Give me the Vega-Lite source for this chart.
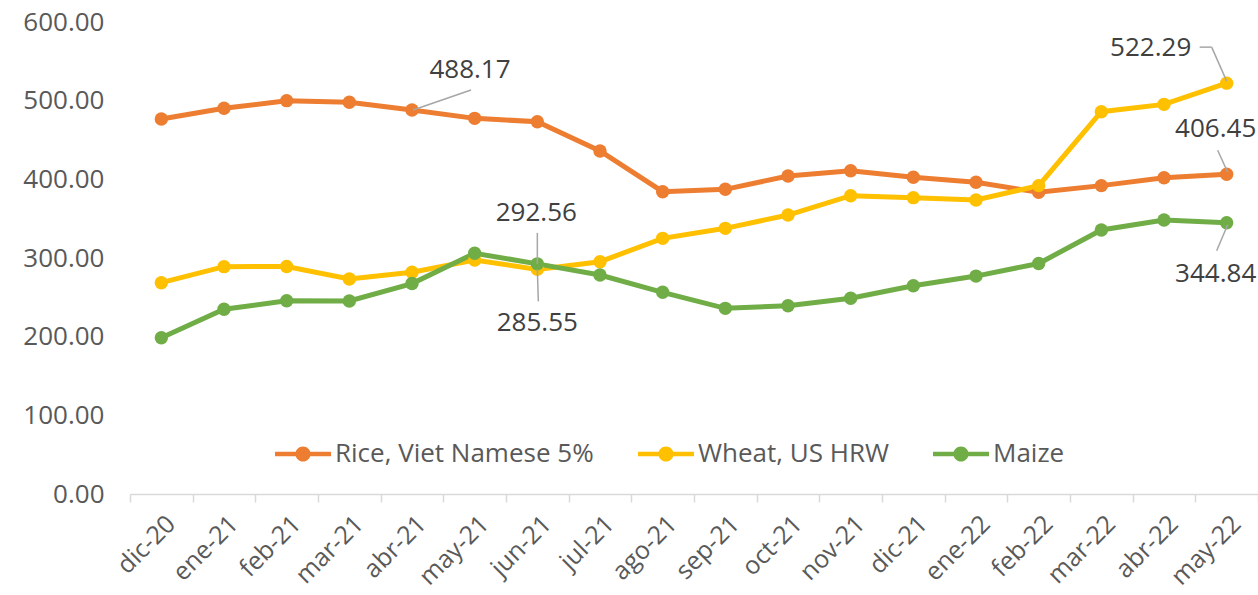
{
  "$schema": "https://vega.github.io/schema/vega-lite/v6.json",
  "width": 1128,
  "height": 472,
  "autosize": {"type": "none"},
  "padding": {"left": 130, "top": 22, "right": 0, "bottom": 101},
  "background": "white",
  "config": {
    "view": {"stroke": null},
    "font": "Open Sans",
    "axis": {"labelFont": "Open Sans", "labelFontSize": 26, "labelColor": "#595959", "grid": false}
  },
  "data": {
    "values": [
      {"month": "dic-20", "series": "Rice, Viet Namese 5%", "value": 476.7},
      {"month": "ene-21", "series": "Rice, Viet Namese 5%", "value": 490.3},
      {"month": "feb-21", "series": "Rice, Viet Namese 5%", "value": 500.0},
      {"month": "mar-21", "series": "Rice, Viet Namese 5%", "value": 497.9},
      {"month": "abr-21", "series": "Rice, Viet Namese 5%", "value": 488.17},
      {"month": "may-21", "series": "Rice, Viet Namese 5%", "value": 477.5},
      {"month": "jun-21", "series": "Rice, Viet Namese 5%", "value": 473.3},
      {"month": "jul-21", "series": "Rice, Viet Namese 5%", "value": 436.0},
      {"month": "ago-21", "series": "Rice, Viet Namese 5%", "value": 384.3},
      {"month": "sep-21", "series": "Rice, Viet Namese 5%", "value": 387.3},
      {"month": "oct-21", "series": "Rice, Viet Namese 5%", "value": 404.2},
      {"month": "nov-21", "series": "Rice, Viet Namese 5%", "value": 411.0},
      {"month": "dic-21", "series": "Rice, Viet Namese 5%", "value": 402.6},
      {"month": "ene-22", "series": "Rice, Viet Namese 5%", "value": 396.2},
      {"month": "feb-22", "series": "Rice, Viet Namese 5%", "value": 383.5},
      {"month": "mar-22", "series": "Rice, Viet Namese 5%", "value": 392.0},
      {"month": "abr-22", "series": "Rice, Viet Namese 5%", "value": 402.0},
      {"month": "may-22", "series": "Rice, Viet Namese 5%", "value": 406.45},
      {"month": "dic-20", "series": "Wheat, US HRW", "value": 268.6},
      {"month": "ene-21", "series": "Wheat, US HRW", "value": 289.0},
      {"month": "feb-21", "series": "Wheat, US HRW", "value": 289.2},
      {"month": "mar-21", "series": "Wheat, US HRW", "value": 273.3},
      {"month": "abr-21", "series": "Wheat, US HRW", "value": 281.8},
      {"month": "may-21", "series": "Wheat, US HRW", "value": 297.4},
      {"month": "jun-21", "series": "Wheat, US HRW", "value": 285.55},
      {"month": "jul-21", "series": "Wheat, US HRW", "value": 295.3},
      {"month": "ago-21", "series": "Wheat, US HRW", "value": 325.0},
      {"month": "sep-21", "series": "Wheat, US HRW", "value": 337.7},
      {"month": "oct-21", "series": "Wheat, US HRW", "value": 354.6},
      {"month": "nov-21", "series": "Wheat, US HRW", "value": 379.2},
      {"month": "dic-21", "series": "Wheat, US HRW", "value": 376.7},
      {"month": "ene-22", "series": "Wheat, US HRW", "value": 373.7},
      {"month": "feb-22", "series": "Wheat, US HRW", "value": 392.0},
      {"month": "mar-22", "series": "Wheat, US HRW", "value": 486.0},
      {"month": "abr-22", "series": "Wheat, US HRW", "value": 495.3},
      {"month": "may-22", "series": "Wheat, US HRW", "value": 522.29},
      {"month": "dic-20", "series": "Maize", "value": 198.7},
      {"month": "ene-21", "series": "Maize", "value": 234.8},
      {"month": "feb-21", "series": "Maize", "value": 245.7},
      {"month": "mar-21", "series": "Maize", "value": 245.3},
      {"month": "abr-21", "series": "Maize", "value": 267.5},
      {"month": "may-21", "series": "Maize", "value": 306.0},
      {"month": "jun-21", "series": "Maize", "value": 292.56},
      {"month": "jul-21", "series": "Maize", "value": 278.4},
      {"month": "ago-21", "series": "Maize", "value": 256.4},
      {"month": "sep-21", "series": "Maize", "value": 236.0},
      {"month": "oct-21", "series": "Maize", "value": 239.4},
      {"month": "nov-21", "series": "Maize", "value": 248.8},
      {"month": "dic-21", "series": "Maize", "value": 264.8},
      {"month": "ene-22", "series": "Maize", "value": 277.0},
      {"month": "feb-22", "series": "Maize", "value": 293.0},
      {"month": "mar-22", "series": "Maize", "value": 335.6},
      {"month": "abr-22", "series": "Maize", "value": 348.3},
      {"month": "may-22", "series": "Maize", "value": 344.84}
    ]
  },
  "encoding": {
    "x": {
      "field": "month", "type": "nominal", "sort": null,
      "scale": {"type": "band", "paddingInner": 0, "paddingOuter": 0},
      "axis": {
        "title": null, "labelAngle": -45, "labelPadding": 9, "labelOffset": 1, "labelFontSize": 25,
        "domainColor": "#D9D9D9", "domainWidth": 1.5,
        "tickColor": "#D9D9D9", "tickWidth": 1.5, "tickSize": 8, "tickBand": "extent"
      }
    },
    "y": {
      "field": "value", "type": "quantitative",
      "scale": {"domain": [0, 600], "nice": false},
      "axis": {
        "title": null, "values": [0, 100, 200, 300, 400, 500, 600], "format": ".2f",
        "domain": false, "ticks": false, "labelPadding": 26
      }
    }
  },
  "layer": [
    {
      "mark": {"type": "line", "strokeWidth": 5},
      "encoding": {
        "color": {
          "field": "series", "type": "nominal",
          "scale": {"domain": ["Rice, Viet Namese 5%", "Wheat, US HRW", "Maize"], "range": ["#ED7D31", "#FFC000", "#70AD47"]},
          "legend": {
            "title": null, "orient": "none", "direction": "horizontal",
            "legendX": 145, "legendY": 404,
            "symbolType": "M-1,-0.08H1V0.08H-1Z M0.27,0 A0.27,0.27 0 1,1 -0.27,0 A0.27,0.27 0 1,1 0.27,0 Z",
            "symbolSize": 3136, "symbolStrokeWidth": 0,
            "labelFont": "Open Sans", "labelFontSize": 26, "labelColor": "#595959", "labelLimit": 0,
            "labelOffset": 4, "columnPadding": 44,
            "encode": {"symbols": {"update": {"fill": {"scale": "color", "field": "value"}, "strokeWidth": {"value": 0}, "opacity": {"value": 1}}}}
          }
        }
      }
    },
    {
      "mark": {"type": "point", "filled": true, "size": 180, "opacity": 1},
      "encoding": {"color": {"field": "series", "type": "nominal", "legend": null}}
    },
    {
      "transform": [{"filter": "datum.month == 'abr-21' && datum.series == 'Rice, Viet Namese 5%'"}],
      "mark": {"type": "rule", "color": "#A6A6A6", "strokeWidth": 1.5, "xOffset": 1, "yOffset": 0, "x2Offset": 59, "y2Offset": -20},
      "encoding": {"x2": {"field": "month", "bandPosition": 0.5}, "y2": {"field": "value"}, "x": {"field": "month", "type": "nominal", "sort": null, "bandPosition": 0.5}}
    },
    {
      "transform": [{"filter": "datum.month == 'jun-21' && datum.series == 'Maize'"}],
      "mark": {"type": "rule", "color": "#A6A6A6", "strokeWidth": 1.5, "xOffset": 0, "yOffset": -31, "x2Offset": 0, "y2Offset": 0},
      "encoding": {"x2": {"field": "month", "bandPosition": 0.5}, "y2": {"field": "value"}, "x": {"field": "month", "type": "nominal", "sort": null, "bandPosition": 0.5}}
    },
    {
      "transform": [{"filter": "datum.month == 'jun-21' && datum.series == 'Wheat, US HRW'"}],
      "mark": {"type": "rule", "color": "#A6A6A6", "strokeWidth": 1.5, "xOffset": 0, "yOffset": 0, "x2Offset": 1, "y2Offset": 32},
      "encoding": {"x2": {"field": "month", "bandPosition": 0.5}, "y2": {"field": "value"}, "x": {"field": "month", "type": "nominal", "sort": null, "bandPosition": 0.5}}
    },
    {
      "transform": [{"filter": "datum.month == 'may-22' && datum.series == 'Wheat, US HRW'"}],
      "mark": {"type": "rule", "color": "#A6A6A6", "strokeWidth": 1.5, "xOffset": -27, "yOffset": -36, "x2Offset": -15, "y2Offset": -36},
      "encoding": {"x2": {"field": "month", "bandPosition": 0.5}, "y2": {"field": "value"}, "x": {"field": "month", "type": "nominal", "sort": null, "bandPosition": 0.5}}
    },
    {
      "transform": [{"filter": "datum.month == 'may-22' && datum.series == 'Wheat, US HRW'"}],
      "mark": {"type": "rule", "color": "#A6A6A6", "strokeWidth": 1.5, "xOffset": -15, "yOffset": -36, "x2Offset": 0, "y2Offset": -2},
      "encoding": {"x2": {"field": "month", "bandPosition": 0.5}, "y2": {"field": "value"}, "x": {"field": "month", "type": "nominal", "sort": null, "bandPosition": 0.5}}
    },
    {
      "transform": [{"filter": "datum.month == 'may-22' && datum.series == 'Rice, Viet Namese 5%'"}],
      "mark": {"type": "rule", "color": "#A6A6A6", "strokeWidth": 1.5, "xOffset": -9, "yOffset": -24, "x2Offset": 1, "y2Offset": -2},
      "encoding": {"x2": {"field": "month", "bandPosition": 0.5}, "y2": {"field": "value"}, "x": {"field": "month", "type": "nominal", "sort": null, "bandPosition": 0.5}}
    },
    {
      "transform": [{"filter": "datum.month == 'may-22' && datum.series == 'Maize'"}],
      "mark": {"type": "rule", "color": "#A6A6A6", "strokeWidth": 1.5, "xOffset": 1, "yOffset": 2, "x2Offset": -10, "y2Offset": 28},
      "encoding": {"x2": {"field": "month", "bandPosition": 0.5}, "y2": {"field": "value"}, "x": {"field": "month", "type": "nominal", "sort": null, "bandPosition": 0.5}}
    },
    {
      "transform": [{"filter": "datum.month == 'abr-21' && datum.series == 'Rice, Viet Namese 5%'"}],
      "mark": {"type": "text", "font": "Open Sans", "fontSize": 26, "color": "#404040", "align": "center", "baseline": "middle", "dx": 58, "dy": -40},
      "encoding": {"text": {"field": "value", "format": ".2f"}}
    },
    {
      "transform": [{"filter": "datum.month == 'jun-21' && datum.series == 'Maize'"}],
      "mark": {"type": "text", "font": "Open Sans", "fontSize": 26, "color": "#404040", "align": "center", "baseline": "middle", "dx": -1, "dy": -51},
      "encoding": {"text": {"field": "value", "format": ".2f"}}
    },
    {
      "transform": [{"filter": "datum.month == 'jun-21' && datum.series == 'Wheat, US HRW'"}],
      "mark": {"type": "text", "font": "Open Sans", "fontSize": 26, "color": "#404040", "align": "center", "baseline": "middle", "dx": 0, "dy": 54},
      "encoding": {"text": {"field": "value", "format": ".2f"}}
    },
    {
      "transform": [{"filter": "datum.month == 'may-22' && datum.series == 'Wheat, US HRW'"}],
      "mark": {"type": "text", "font": "Open Sans", "fontSize": 26, "color": "#404040", "align": "center", "baseline": "middle", "dx": -76, "dy": -35},
      "encoding": {"text": {"field": "value", "format": ".2f"}}
    },
    {
      "transform": [{"filter": "datum.month == 'may-22' && datum.series == 'Rice, Viet Namese 5%'"}],
      "mark": {"type": "text", "font": "Open Sans", "fontSize": 26, "color": "#404040", "align": "center", "baseline": "middle", "dx": -11, "dy": -45},
      "encoding": {"text": {"field": "value", "format": ".2f"}}
    },
    {
      "transform": [{"filter": "datum.month == 'may-22' && datum.series == 'Maize'"}],
      "mark": {"type": "text", "font": "Open Sans", "fontSize": 26, "color": "#404040", "align": "center", "baseline": "middle", "dx": -11, "dy": 51},
      "encoding": {"text": {"field": "value", "format": ".2f"}}
    }
  ]
}
